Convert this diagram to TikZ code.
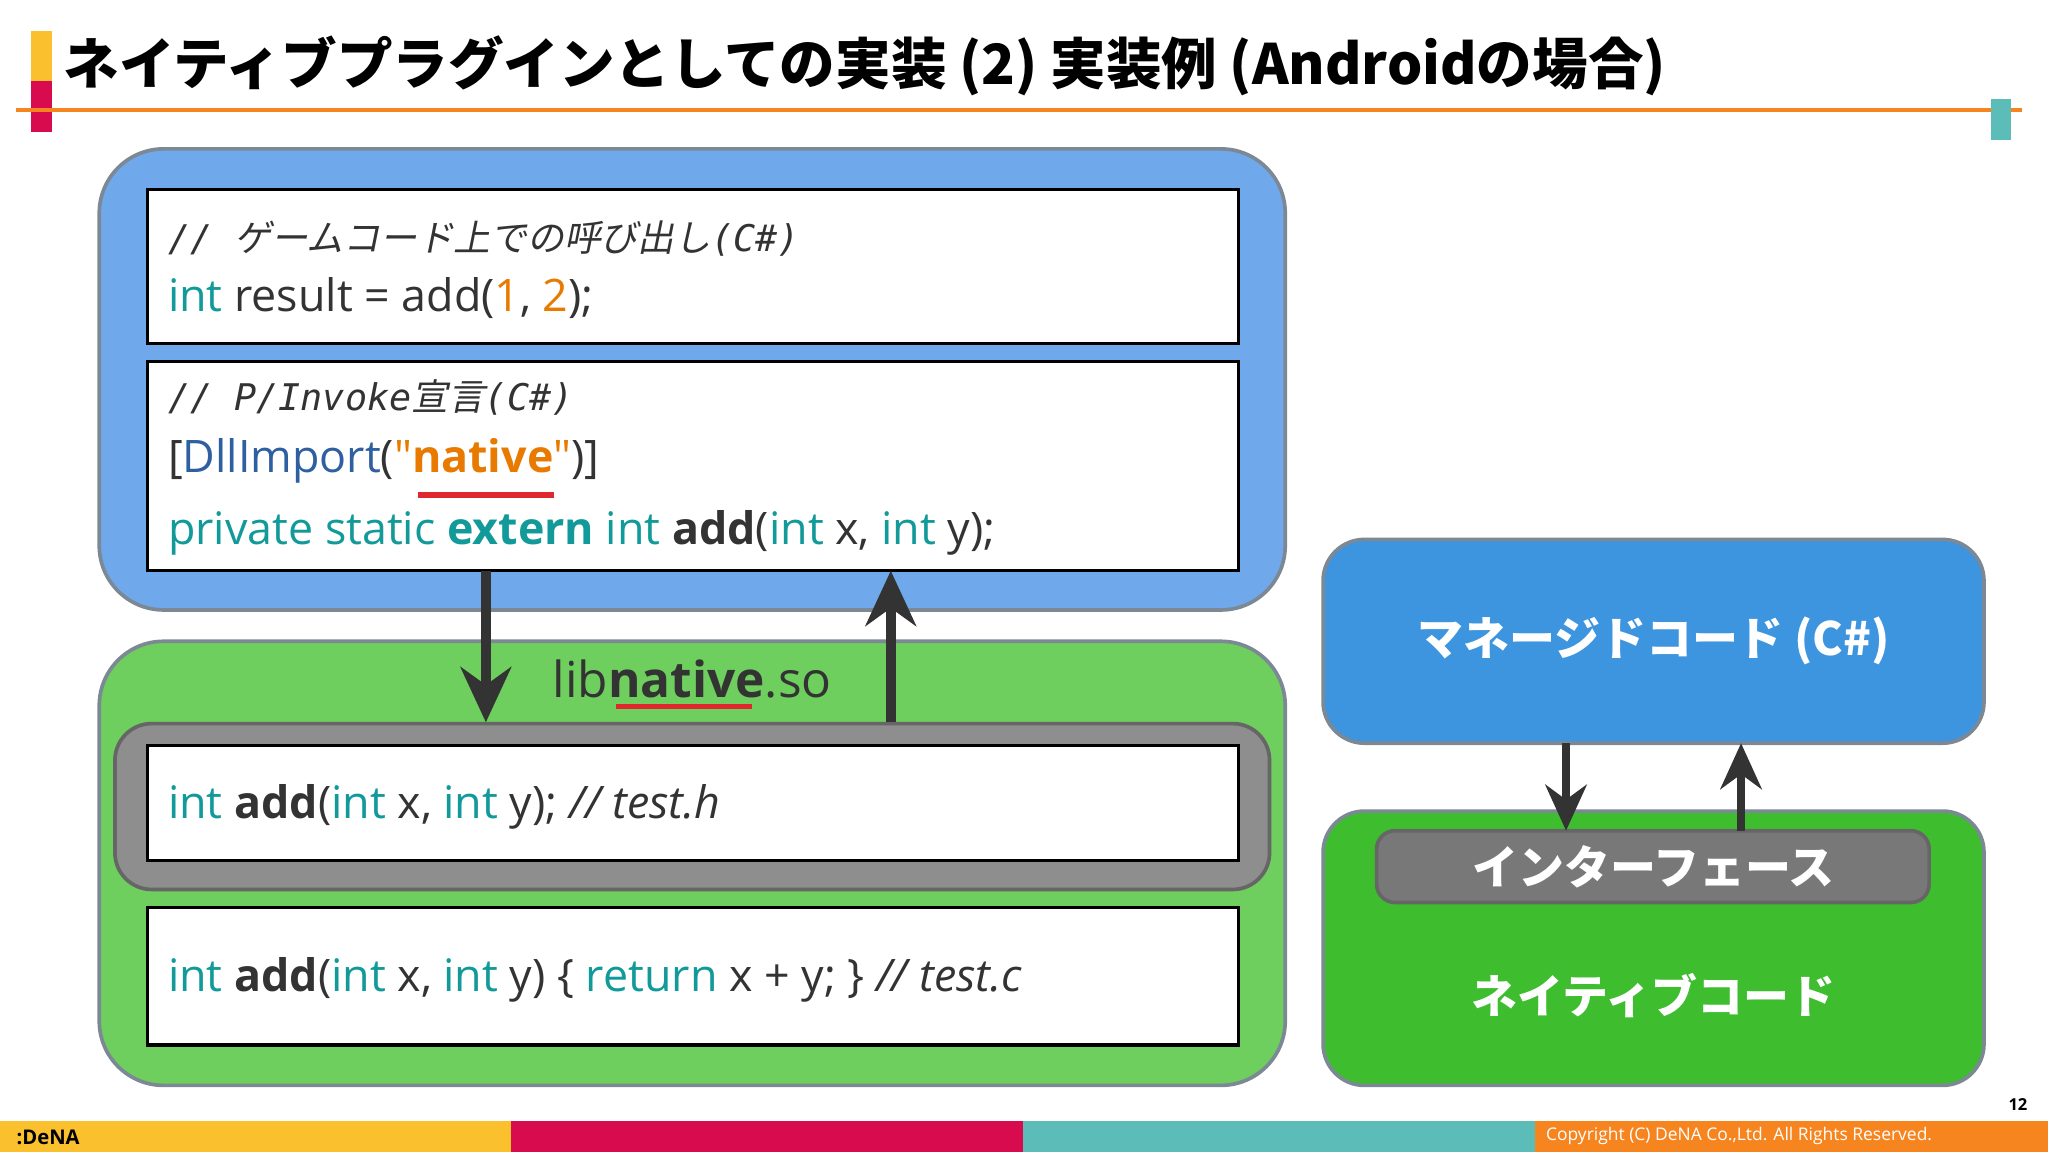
\documentclass[tikz,border=0pt]{standalone}
\usepackage{fontspec}
\setmainfont{Open Sans}[Ligatures=TeXOff]
\newfontfamily\qf{Open Sans}[Ligatures=TeXOff]
\setmonofont{DejaVu Sans Mono}
\newfontfamily\jp{Noto Sans CJK JP}
\newfontfamily\jpit[FakeSlant=0.2]{Noto Sans CJK JP}
\usetikzlibrary{arrows.meta}
\definecolor{kw}{HTML}{129A9A}
\definecolor{num}{HTML}{E87A00}
\definecolor{dll}{HTML}{2E5FA0}
\definecolor{ul}{HTML}{E0262E}
\definecolor{bluep}{HTML}{6FA9EC}
\definecolor{greenp}{HTML}{6ECE5E}
\definecolor{grayb}{HTML}{8E8E8E}
\definecolor{panelb}{HTML}{7C8894}
\definecolor{rblue}{HTML}{3D94DF}
\definecolor{rgreen}{HTML}{3EBD2F}
\definecolor{rgray}{HTML}{787878}
\definecolor{dkarrow}{HTML}{333333}
\definecolor{txt}{HTML}{333333}
\definecolor{byellow}{HTML}{FBC02D}
\definecolor{bred}{HTML}{D80B4F}
\definecolor{bteal}{HTML}{5BBCB8}
\definecolor{borange}{HTML}{F6851F}
\tikzset{
 panel/.style={draw=panelb,line width=0.8pt,rounded corners=14pt},
 codebox/.style={draw=black,fill=white,line width=0.7pt},
 code/.style={anchor=west,inner sep=0pt,text=txt,font=\fontsize{9.75pt}{12pt}\selectfont},
 cmt/.style={anchor=west,inner sep=0pt,text=txt,font=\fontsize{8pt}{10pt}\selectfont},
 bigarrow/.style={draw=dkarrow,line width=2.1pt,-{Stealth[length=12pt,width=11pt]}},
 rlabel/.style={text=white,font=\jp\bfseries\fontsize{10pt}{12pt}\selectfont},
}
\begin{document}
\begin{tikzpicture}[x=0.01cm,y=-0.01cm]
\useasboundingbox[fill=white] (0,0) rectangle (1568,882);
% header
\fill[byellow] (24,24) rectangle (40,62);
\fill[bred] (24,62) rectangle (40,101);
\draw[borange,line width=0.9pt] (12,84) -- (1548,84);
\fill[bteal] (1524,76) rectangle (1540,107);
\node[anchor=west,inner sep=0pt,font=\jp\bfseries\fontsize{12.1pt}{14pt}\selectfont] (title) at (48,50) {ネイティブプラグインとしての実装 (2) 実装例 (Androidの場合)};
% left blue panel
\draw[panel,fill=bluep] (76,114) rectangle (984,467);
\draw[codebox] (113,145) rectangle (948,263);
\node[cmt] (c1) at (128,183) {{\ttfamily\itshape //~}{\jpit ゲームコード上での呼び出し}{\ttfamily\itshape (C\#)}};
\node[code] (l1) at (128,228) {\textcolor{kw}{int} result = add(\textcolor{num}{1}, \textcolor{num}{2});};
\draw[codebox] (113,277) rectangle (948,437);
\node[cmt] (c2) at (128,304) {{\ttfamily\itshape // P/Invoke}{\jpit 宣言}{\ttfamily\itshape (C\#)}};
\node[code] (l2) at (128,353) {[\textcolor{dll}{DllImport}(\textcolor{num}{{\qf"}\textbf{native}{\qf"}})]};
\draw[ul,line width=1.2pt] (320,379) -- (424,379);
\node[code] (l3) at (128,408) {\textcolor{kw}{private static \textbf{extern} int} \textbf{add}(\textcolor{kw}{int} x, \textcolor{kw}{int} y);};
% left green panel
\draw[panel,fill=greenp] (76,491) rectangle (984,831);
\node[inner sep=0pt,font=\fontsize{10.8pt}{13pt}\selectfont,text=txt] (lib) at (530,520) {lib\textbf{native}.so};
\draw[ul,line width=1.2pt] (472,541) -- (576,541);
\draw[draw=black!60,fill=grayb,line width=0.8pt,rounded corners=8pt] (88,554) rectangle (972,681);
\draw[codebox] (113,571) rectangle (948,659);
\node[code] (h) at (128,618) {\textcolor{kw}{int} \textbf{add}(\textcolor{kw}{int} x, \textcolor{kw}{int} y); \textit{// test.h}};
\draw[codebox] (113,695) rectangle (948,800);
\node[code] (c) at (128,750) {\textcolor{kw}{int} \textbf{add}(\textcolor{kw}{int} x, \textcolor{kw}{int} y) \{ \textcolor{kw}{return} x + y; \} \textit{// test.c}};
\coordinate (a1s) at (372,437); \coordinate (a1e) at (372,553);
\coordinate (a2s) at (682,553); \coordinate (a2e) at (682,437);
\draw[bigarrow] (a1s) -- (a1e);
\draw[bigarrow] (a2s) -- (a2e);
% right side
\draw[panel,fill=rgreen,rounded corners=9pt] (1013,621) rectangle (1519,831);
\draw[panel,fill=rblue,rounded corners=9pt] (1013,413) rectangle (1519,569);
\node[rlabel] (mg) at (1266,491) {マネージドコード (C\#)};
\draw[draw=black!60,fill=rgray,line width=0.8pt,rounded corners=4pt] (1054,636) rectangle (1477,691);
\node[rlabel] (itf) at (1266,664) {インターフェース};
\node[rlabel] (nat) at (1266,762) {ネイティブコード};
\coordinate (b1s) at (1199,569); \coordinate (b1e) at (1199,636);
\coordinate (b2s) at (1333,636); \coordinate (b2e) at (1333,569);
\draw[bigarrow,line width=1.6pt,-{Stealth[length=10pt,width=9pt]}] (b1s) -- (b1e);
\draw[bigarrow,line width=1.6pt,-{Stealth[length=10pt,width=9pt]}] (b2s) -- (b2e);
% footer
\fill[byellow] (0,858) rectangle (391,882);
\fill[bred] (391,858) rectangle (783,882);
\fill[bteal] (783,858) rectangle (1175,882);
\fill[borange] (1175,858) rectangle (1568,882);
\node[inner sep=0pt,font=\bfseries\fontsize{3.6pt}{4pt}\selectfont] (pg) at (1545,846) {12};
\node[anchor=west,inner sep=0pt,text=white,font=\fontsize{3.8pt}{5pt}\selectfont] (cp) at (1183,870) {Copyright (C) DeNA Co.,Ltd. All Rights Reserved.};
\node[anchor=west,inner sep=0pt,font=\bfseries\fontsize{4.4pt}{5pt}\selectfont] (logo) at (12,871) {:DeNA};
\end{tikzpicture}
\end{document}
